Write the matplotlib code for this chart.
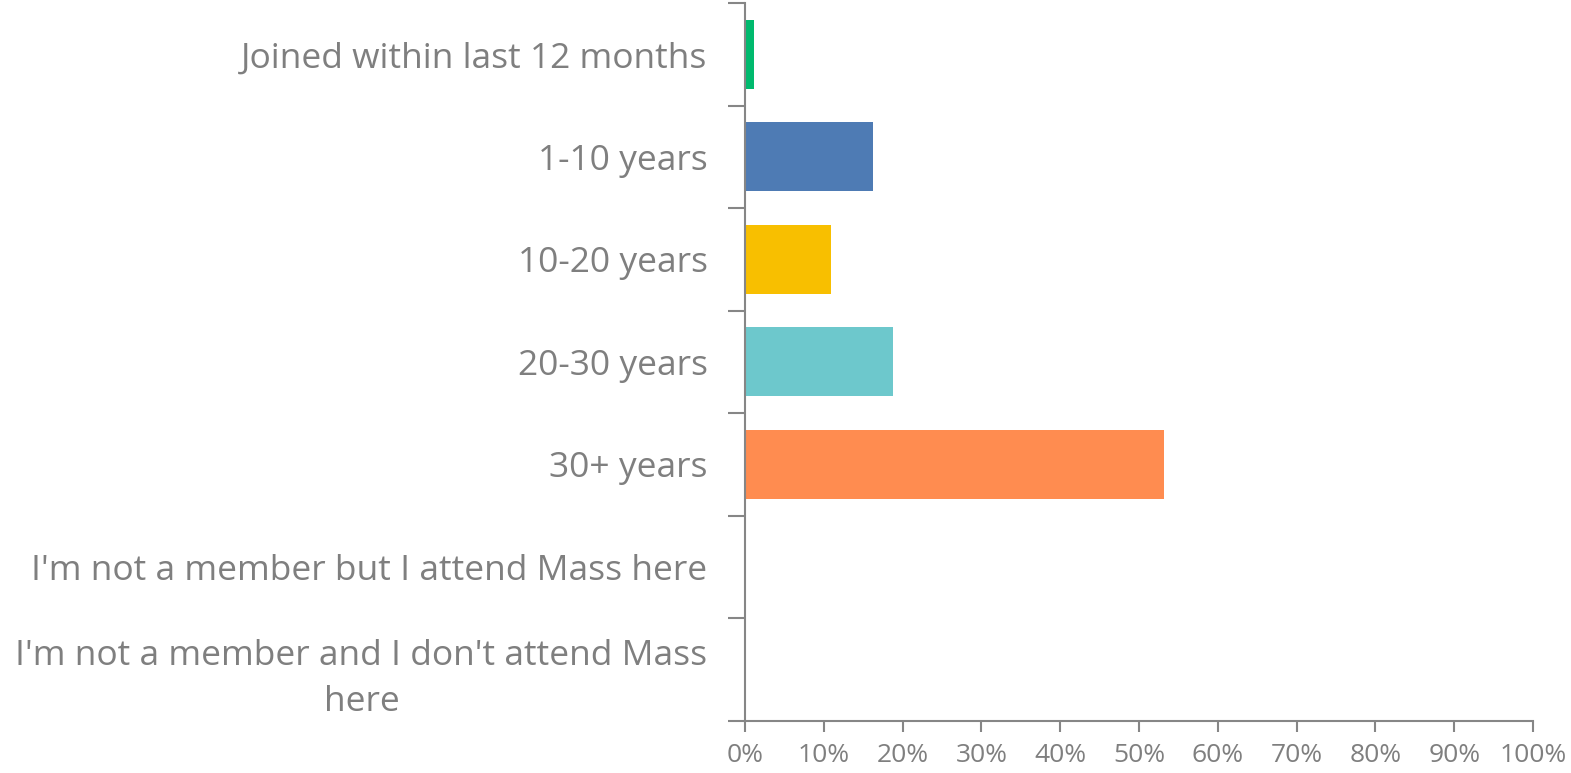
import matplotlib
matplotlib.use("Agg")
import matplotlib.pyplot as plt

# categories top to bottom
categories = [
    "Joined within last 12 months",
    "1-10 years",
    "10-20 years",
    "20-30 years",
    "30+ years",
    "I'm not a member but I attend Mass here",
    "I'm not a member and I don't attend Mass\nhere",
]
values = [1.2, 16.2, 10.9, 18.8, 53.2, 0.0, 0.0]
colors = ["#00BA6E", "#4E7BB4", "#F8BF00", "#6DC8CC", "#FF8C50", "#A5A5A5", "#A5A5A5"]
x_ticks = list(range(0, 101, 10))

TEXT_GRAY = "#7F7F7F"
AXIS_GRAY = "#868686"

plt.rcParams["font.family"] = ["Open Sans", "DejaVu Sans"]

W, H = 1571, 773
fig = plt.figure(figsize=(W / 100, H / 100), dpi=100)
ax = fig.add_axes([745 / W, (H - 720.5) / H, (1533 - 745) / W, (720.5 - 3) / H])

ypos = list(range(len(categories)))
ax.barh(ypos, values, height=0.67, color=colors)

ax.set_xlim(0, 100)
ax.set_ylim(len(categories) - 0.5, -0.5)

ax.set_xticks(x_ticks)
ax.set_xticklabels([f"{t}%" for t in x_ticks], fontsize=19, color=TEXT_GRAY)
ax.tick_params(axis="x", length=8, width=1.5, color=AXIS_GRAY, pad=8)

ax.set_yticks(ypos)
ax.set_yticklabels(categories, fontsize=25.5, color=TEXT_GRAY,
                   multialignment="center", linespacing=1.45)
ax.tick_params(axis="y", which="major", length=0, pad=27)
ax.set_yticks([i - 0.5 for i in range(len(categories) + 1)], minor=True)
ax.tick_params(axis="y", which="minor", length=12, width=1.5, color=AXIS_GRAY)

for s in ["top", "right"]:
    ax.spines[s].set_visible(False)
for s in ["left", "bottom"]:
    ax.spines[s].set_color(AXIS_GRAY)
    ax.spines[s].set_linewidth(1.5)

fig.savefig("out.png", dpi=100)
